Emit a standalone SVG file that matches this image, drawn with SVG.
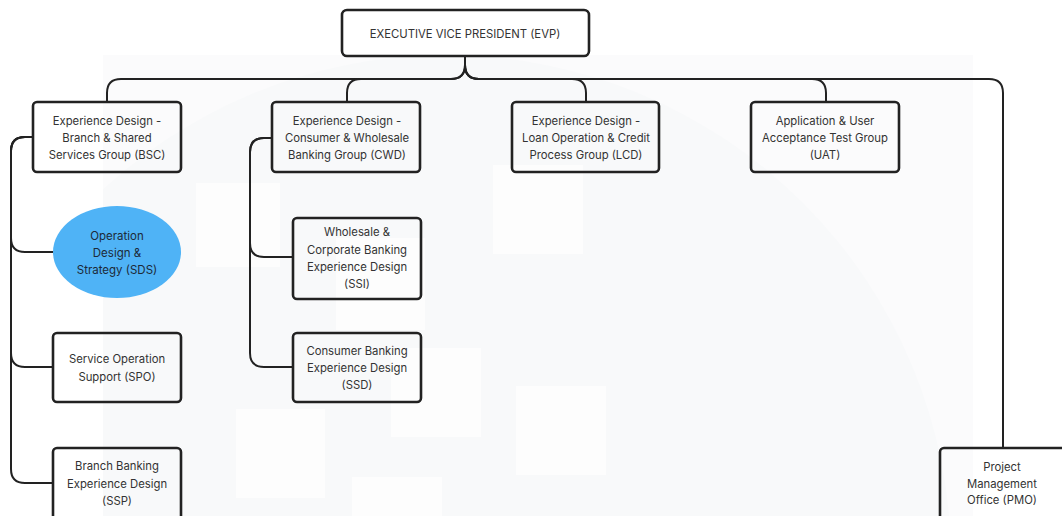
<svg xmlns="http://www.w3.org/2000/svg" width="1062" height="516" viewBox="0 0 1062 516">
  <defs>
    <style>
      .box { fill: none; stroke: #222222; stroke-width: 2.6; }
      .conn { fill: none; stroke: #222222; stroke-width: 2; stroke-linejoin: round; }
      .t { font-family: Inter, "Noto Sans", "Liberation Sans", sans-serif; font-size: 11.3px; fill: #333333; text-anchor: middle; }
      .te { font-family: Inter, "Noto Sans", "Liberation Sans", sans-serif; font-size: 11.5px; fill: #1d2a38; text-anchor: middle; }
      .sq { fill: #fdfdfd; }
    </style>
    <clipPath id="bgclip">
      <rect x="103" y="55" width="870" height="461"/>
    </clipPath>
  </defs>

  <rect x="0" y="0" width="1062" height="516" fill="#ffffff"/>

  <g id="watermark">
    <rect x="103" y="55" width="870" height="461" fill="#fbfbfc"/>
    <circle cx="446" cy="560" r="505" fill="#f8f9fa" clip-path="url(#bgclip)"/>
    <rect class="sq" x="196" y="183" width="84" height="84"/>
    <rect class="sq" x="336" y="238" width="89" height="92"/>
    <rect class="sq" x="493" y="165" width="90" height="89"/>
    <rect class="sq" x="391" y="348" width="90" height="89"/>
    <rect class="sq" x="516" y="386" width="90" height="89"/>
    <rect class="sq" x="236" y="409" width="89" height="89"/>
    <rect class="sq" x="352" y="477" width="90" height="39"/>
  </g>

  <g id="connectors">
    <path class="conn" d="M465,56 V65 Q465,79 451,79 H121 Q107,79 107,93 V102"/>
    <path class="conn" d="M465,56 V65 Q465,79 451,79 H361 Q347,79 347,93 V102"/>
    <path class="conn" d="M465,56 V65 Q465,79 479,79 H572 Q586,79 586,93 V102"/>
    <path class="conn" d="M465,56 V65 Q465,79 479,79 H812 Q826,79 826,93 V102"/>
    <path class="conn" d="M465,56 V65 Q465,79 479,79 H989 Q1003,79 1003,93 V448"/>

    <path class="conn" d="M33,137 H25 Q11,137 11,151 V238 Q11,252 25,252 H54"/>
    <path class="conn" d="M33,137 H25 Q11,137 11,151 V353 Q11,367 25,367 H53"/>
    <path class="conn" d="M33,137 H25 Q11,137 11,151 V469 Q11,483 25,483 H53"/>

    <path class="conn" d="M272,138 H264 Q250,138 250,152 V243 Q250,257 264,257 H293"/>
    <path class="conn" d="M272,138 H264 Q250,138 250,152 V353 Q250,367 264,367 H293"/>
  </g>

  <g id="evp">
    <rect class="box" x="342" y="10" width="247" height="46" rx="5"/>
    <text class="t" x="465" y="37.5" font-size="10.8">EXECUTIVE VICE PRESIDENT (EVP)</text>
  </g>

  <g id="bsc">
    <rect class="box" x="33" y="102" width="148" height="70" rx="4"/>
    <text class="t" x="107" y="124.5">Experience Design -</text>
    <text class="t" x="107" y="141.5">Branch &amp; Shared</text>
    <text class="t" x="107" y="158.5">Services Group (BSC)</text>
  </g>

  <g id="cwd">
    <rect class="box" x="272" y="102" width="148" height="70" rx="4"/>
    <text class="t" x="347" y="124.5">Experience Design -</text>
    <text class="t" x="347" y="141.5">Consumer &amp; Wholesale</text>
    <text class="t" x="347" y="158.5">Banking Group (CWD)</text>
  </g>

  <g id="lcd">
    <rect class="box" x="512" y="102" width="147" height="70" rx="4"/>
    <text class="t" x="586" y="124.5">Experience Design -</text>
    <text class="t" x="586" y="141.5">Loan Operation &amp; Credit</text>
    <text class="t" x="586" y="158.5">Process Group (LCD)</text>
  </g>

  <g id="uat">
    <rect class="box" x="751" y="102" width="148" height="70" rx="4"/>
    <text class="t" x="825" y="124.5">Application &amp; User</text>
    <text class="t" x="825" y="141.5">Acceptance Test Group</text>
    <text class="t" x="825" y="158.5">(UAT)</text>
  </g>

  <g id="sds">
    <ellipse cx="117" cy="252" rx="64" ry="46" fill="#4fb3f6"/>
    <text class="te" x="117" y="239.5">Operation</text>
    <text class="te" x="117" y="257">Design &amp;</text>
    <text class="te" x="117" y="274">Strategy (SDS)</text>
  </g>

  <g id="spo">
    <rect class="box" x="53" y="333" width="128" height="69" rx="4"/>
    <text class="t" x="117" y="363">Service Operation</text>
    <text class="t" x="117" y="380.5">Support (SPO)</text>
  </g>

  <g id="ssp">
    <rect class="box" x="53" y="448" width="128" height="74" rx="4"/>
    <text class="t" x="117" y="470">Branch Banking</text>
    <text class="t" x="117" y="487.5">Experience Design</text>
    <text class="t" x="117" y="504.5">(SSP)</text>
  </g>

  <g id="ssi">
    <rect class="box" x="293" y="218" width="128" height="81" rx="4"/>
    <text class="t" x="357" y="236">Wholesale &amp;</text>
    <text class="t" x="357" y="254">Corporate Banking</text>
    <text class="t" x="357" y="271">Experience Design</text>
    <text class="t" x="357" y="288">(SSI)</text>
  </g>

  <g id="ssd">
    <rect class="box" x="293" y="333" width="128" height="69" rx="4"/>
    <text class="t" x="357" y="355">Consumer Banking</text>
    <text class="t" x="357" y="372">Experience Design</text>
    <text class="t" x="357" y="389">(SSD)</text>
  </g>

  <g id="pmo">
    <rect class="box" x="940" y="448" width="126" height="74" rx="4"/>
    <text class="t" x="1002" y="470.5">Project</text>
    <text class="t" x="1002" y="487.5">Management</text>
    <text class="t" x="1002" y="504">Office (PMO)</text>
  </g>
</svg>
